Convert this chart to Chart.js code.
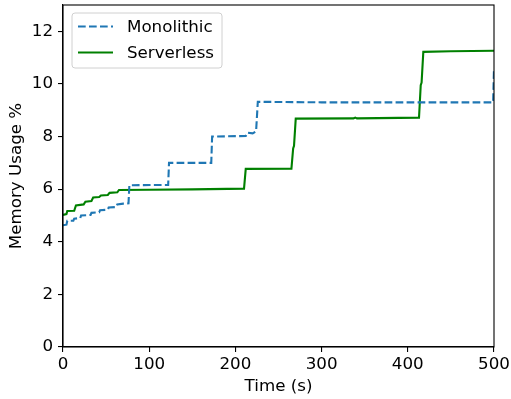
<!DOCTYPE html>
<html>
<head>
<meta charset="utf-8">
<script src="https://cdn.jsdelivr.net/npm/chart.js@4"></script>
<style>
  html, body { margin: 0; padding: 0; background: #fff; }
  #wrap { width: 511px; height: 399px; }
</style>
</head>
<body>
<div id="wrap"><canvas id="chart" width="511" height="399"></canvas></div>
<script>
// values
const monoTime  = [0, 4, 5, 12, 13, 20, 21, 32, 33, 42, 43, 52, 53, 62, 63, 70, 76, 77, 122, 123, 172, 173, 212, 214, 220, 224, 226, 300, 497, 499, 500];
const monoValue = [4.63, 4.65, 4.8, 4.8, 4.88, 4.9, 5.0, 5.02, 5.1, 5.12, 5.2, 5.22, 5.3, 5.32, 5.42, 5.45, 5.46, 6.15, 6.16, 7.0, 7.0, 8.0, 8.02, 8.15, 8.12, 8.2, 9.32, 9.3, 9.3, 9.3, 10.6];
const serverTime  = [0, 4, 5, 13, 15, 24, 26, 33, 35, 42, 44, 52, 54, 63, 65, 100, 150, 210, 212, 265, 267, 268, 270, 337, 339, 341, 413, 415, 416, 418, 450, 500];
const serverValue = [5.02, 5.05, 5.17, 5.18, 5.38, 5.42, 5.52, 5.55, 5.68, 5.7, 5.76, 5.78, 5.86, 5.88, 5.97, 5.98, 5.99, 6.02, 6.77, 6.78, 7.55, 7.65, 8.68, 8.69, 8.72, 8.69, 8.72, 9.95, 10.05, 11.22, 11.24, 11.26];
const xTicks = [0, 100, 200, 300, 400, 500];
const yTicks = [0, 2, 4, 6, 8, 10, 12];

const FONT = 'DejaVu Sans';
const FS = 16.7;

function toPoints(xs, ys) {
    return xs.map((x, i) => ({x: x, y: ys[i]}));
}

// box around the plot and the legend in the upper left corner
const framePlugin = {
    id: 'frame',
    afterDraw(chart) {
        const ctx = chart.ctx;
        const a = chart.chartArea;
        ctx.save();
        ctx.strokeStyle = '#000';
        ctx.lineWidth = 1.1;
        ctx.strokeRect(a.left, a.top, a.right - a.left, a.bottom - a.top);

        // legend
        const lx = a.left + 9, ly = a.top + 8, lw = 150, lh = 55;
        ctx.beginPath();
        ctx.roundRect(lx, ly, lw, lh, 3);
        ctx.fillStyle = 'rgba(255,255,255,0.8)';
        ctx.fill();
        ctx.strokeStyle = '#d0d0d0';
        ctx.lineWidth = 1;
        ctx.stroke();
        ctx.font = FS + 'px "' + FONT + '"';
        ctx.textBaseline = 'middle';
        ctx.textAlign = 'left';
        chart.data.datasets.forEach((ds, i) => {
            const y = ly + 13.5 + i * 26;
            ctx.beginPath();
            ctx.strokeStyle = ds.borderColor;
            ctx.lineWidth = ds.borderWidth;
            ctx.setLineDash(ds.borderDash || []);
            ctx.moveTo(lx + 6, y);
            ctx.lineTo(lx + 41, y);
            ctx.stroke();
            ctx.setLineDash([]);
            ctx.fillStyle = '#000';
            ctx.fillText(ds.label, lx + 55, y + 1);
        });
        ctx.restore();
    }
};

new Chart(document.getElementById('chart'), {
    type: 'line',
    data: {
        datasets: [
            {
                label: 'Monolithic',
                data: toPoints(monoTime, monoValue),
                borderColor: '#1f77b4',
                borderWidth: 2.1,
                borderDash: [7.7, 3.3],
                pointRadius: 0,
                tension: 0,
                fill: false
            },
            {
                label: 'Serverless',
                data: toPoints(serverTime, serverValue),
                borderColor: '#008000',
                borderWidth: 2.1,
                pointRadius: 0,
                tension: 0,
                fill: false
            }
        ]
    },
    options: {
        responsive: false,
        animation: false,
        layout: { padding: { left: 0, right: 17, top: 5, bottom: 0 } },
        plugins: {
            legend: { display: false },
            tooltip: { enabled: false }
        },
        scales: {
            x: {
                type: 'linear',
                min: 0,
                max: 500,
                afterBuildTicks: (s) => { s.ticks = xTicks.map(v => ({value: v})); },
                afterFit: (s) => { s.height = 52; s.paddingLeft = 0; s.paddingRight = 0; },
                grid: { display: true, drawOnChartArea: false, drawTicks: true, tickLength: 5, color: '#000', lineWidth: 1.1 },
                border: { display: true, color: '#000', width: 1.1 },
                ticks: { color: '#000', padding: 3, maxRotation: 0, font: { family: FONT, size: FS } },
                title: { display: true, text: 'Time (s)', color: '#000', padding: { top: 0, bottom: 2 }, font: { family: FONT, size: FS } }
            },
            y: {
                type: 'linear',
                min: 0,
                max: 13,
                afterBuildTicks: (s) => { s.ticks = yTicks.map(v => ({value: v})); },
                afterFit: (s) => { s.width = 63; s.paddingTop = 0; s.paddingBottom = 0; },
                grid: { display: true, drawOnChartArea: false, drawTicks: true, tickLength: 5, color: '#000', lineWidth: 1.1 },
                border: { display: true, color: '#000', width: 1.1 },
                ticks: { color: '#000', padding: 5, font: { family: FONT, size: FS } },
                title: { display: true, text: 'Memory Usage %', color: '#000', padding: { top: 7, bottom: 0 }, font: { family: FONT, size: FS } }
            }
        }
    },
    plugins: [framePlugin]
});
</script>
</body>
</html>
